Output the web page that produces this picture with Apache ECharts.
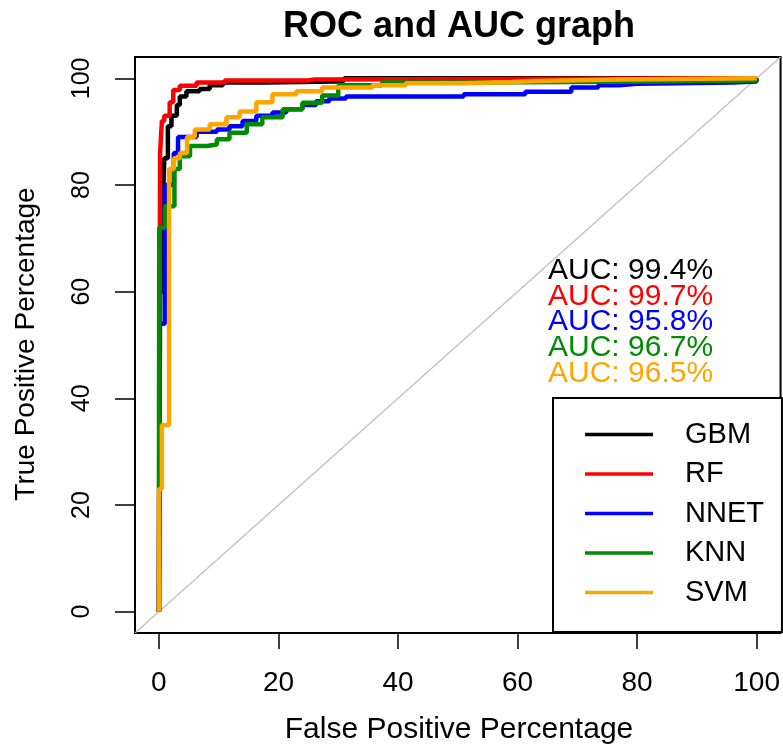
<!DOCTYPE html>
<html>
<head>
<meta charset="utf-8">
<script src="https://cdn.jsdelivr.net/npm/echarts@6/dist/echarts.min.js"></script>
<style>html,body{margin:0;padding:0;background:#fff}#c{width:783px;height:746px}</style>
</head>
<body>
<div id="c"></div>
<script>
// ---- data ----
const modelNames = ['GBM', 'RF', 'NNET', 'KNN', 'SVM'];
const modelColors = ['#000000', '#FF0000', '#0000FF', '#008B00', '#FFA500'];
const aucValues = [99.4, 99.7, 95.8, 96.7, 96.5];
const xTicks = [0, 20, 40, 60, 80, 100];
const yTicks = [0, 20, 40, 60, 80, 100];

const gbmFpr = [0, 0.2, 0.6, 0.9, 1.5, 2.1, 3.0, 3.5, 4.6, 6.8, 8.5, 10.7, 18, 29.6, 31, 100];
const gbmTpr = [0, 60, 74, 85, 91, 93, 95, 96.6, 97.6, 98, 98.7, 99.2, 99.4, 99.6, 100, 100];

const rfFpr = [0, 0.2, 0.5, 0.9, 1.8, 2.4, 3.5, 6.3, 11, 25, 26, 100];
const rfTpr = [0, 86, 92, 93, 95.5, 97.8, 98.6, 99.2, 99.6, 99.8, 100, 100];

const nnetFpr = [0, 0.1, 1.0, 2.5, 3.2, 6.3, 9.7, 11.8, 14, 16.3, 19, 21.3, 24, 26.3, 28.5, 31.3, 51, 61.3, 69, 73.5, 77, 80, 96, 100];
const nnetTpr = [0, 54, 80, 86, 89, 90, 90.4, 91, 92, 93, 93.6, 94.2, 95, 95.7, 96.2, 96.6, 97, 97.5, 98.3, 98.7, 99, 99.2, 99.4, 100];

const knnFpr = [0, 0.05, 1.0, 1.0, 2.6, 3.5, 5.2, 8, 9.7, 11.8, 14.7, 17.3, 20.7, 24, 27.3, 30, 37.3, 51.8, 85, 89.7, 100];
const knnTpr = [0, 72, 74, 76, 83, 85.4, 87.3, 87.6, 88.6, 89.8, 91.4, 92.7, 94.2, 95.4, 96.8, 98.7, 99.2, 99.4, 99.5, 99.6, 100];

const svmFpr = [0, 0, 0.5, 1.7, 2.5, 3.5, 4.7, 6, 8.5, 11.3, 13.5, 16.3, 19, 23, 27.3, 35.7, 41.3, 51, 59, 63, 77, 100];
const svmTpr = [0, 23, 35, 83, 85, 86, 89, 90.4, 91.4, 92.7, 93.8, 95.5, 97, 97.6, 98.3, 98.7, 99.1, 99.3, 99.5, 99.8, 100, 100];

const diagX = [-4, 104];
const diagY = [-4, 104];

// ---- chart ----
const FONT = 'Liberation Sans, Arial, sans-serif';
const fprs = [gbmFpr, rfFpr, nnetFpr, knnFpr, svmFpr];
const tprs = [gbmTpr, rfTpr, nnetTpr, knnTpr, svmTpr];
const zip = (a, b) => a.map((v, i) => [v, b[i]]);

const series = [{
  name: 'diag', type: 'line', data: zip(diagX, diagY), symbol: 'none',
  lineStyle: { color: '#BEBEBE', width: 1.2 }, silent: true, z: 1
}];
modelNames.forEach((n, i) => {
  series.push({
    name: n, type: 'line', step: 'end', data: zip(fprs[i], tprs[i]), symbol: 'none',
    lineStyle: { color: modelColors[i], width: 4.5 }, itemStyle: { color: modelColors[i] }, z: 2
  });
});

const graphics = [
  { type: 'text', x: 459, y: 730, style: { text: 'False Positive Percentage', fontSize: 30, fontFamily: FONT, fill: '#000', textAlign: 'center', textVerticalAlign: 'middle' } },
  { type: 'text', x: 26, y: 344, rotation: Math.PI / 2, style: { text: 'True Positive Percentage', fontSize: 28, fontFamily: FONT, fill: '#000', textAlign: 'center', textVerticalAlign: 'middle' } }
];
const aucY = [271, 297, 322, 348, 374];
aucValues.forEach((v, i) => {
  graphics.push({ type: 'text', x: 548, y: aucY[i], z: 10, style: { text: 'AUC: ' + v.toFixed(1) + '%', fontSize: 30, fontFamily: FONT, fill: modelColors[i], textAlign: 'left', textVerticalAlign: 'middle' } });
});

const chart = echarts.init(document.getElementById('c'), null, { renderer: 'canvas' });
chart.setOption({
  animation: false,
  backgroundColor: '#fff',
  title: {
    text: 'ROC and AUC graph', left: 454, top: 4, textAlign: 'center',
    textStyle: { fontSize: 36, fontWeight: 'bold', fontFamily: FONT, color: '#000' }
  },
  grid: { left: 135, right: 1, top: 57, bottom: 113, show: true, borderColor: '#000', borderWidth: 2, backgroundColor: 'transparent' },
  xAxis: {
    type: 'value', min: -4, max: 104,
    axisLine: { show: false, onZero: false }, splitLine: { show: false },
    axisTick: { show: true, inside: false, customValues: xTicks, length: 16, lineStyle: { color: '#000', width: 1.5 } },
    axisLabel: { customValues: xTicks, fontSize: 28, fontFamily: FONT, color: '#000', margin: 36 }
  },
  yAxis: {
    type: 'value', min: -4, max: 104,
    axisLine: { show: false, onZero: false }, splitLine: { show: false },
    axisTick: { show: true, inside: false, customValues: yTicks, length: 20, lineStyle: { color: '#000', width: 1.5 } },
    axisLabel: { customValues: yTicks, fontSize: 25, fontFamily: FONT, color: '#000', rotate: 90, margin: 40 }
  },
  legend: {
    data: modelNames, orient: 'vertical', left: 553, top: 398,
    padding: [22, 18, 25, 32], itemGap: 10.5, itemWidth: 68, itemHeight: 3.5, icon: 'rect',
    backgroundColor: '#fff', borderColor: '#000', borderWidth: 2,
    textStyle: { fontSize: 29, fontFamily: FONT, color: '#000', lineHeight: 29, padding: [0, 0, 0, 27] }
  },
  graphic: graphics,
  series: series
});
</script>
</body>
</html>
